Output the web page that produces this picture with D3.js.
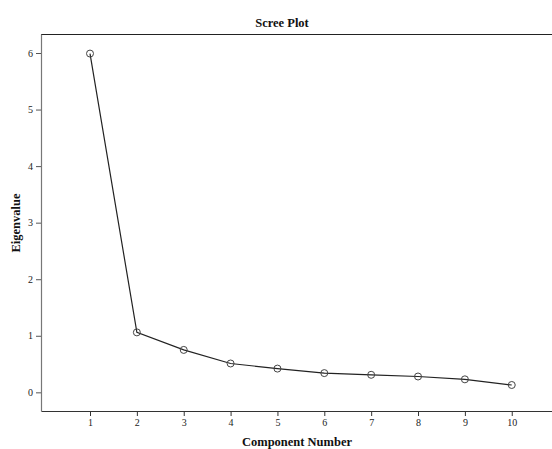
<!DOCTYPE html>
<html>
<head>
<meta charset="utf-8">
<script src="https://cdn.jsdelivr.net/npm/d3@7/dist/d3.min.js"></script>
<style>
  html, body { margin: 0; padding: 0; background: #fff; }
  svg { display: block; }
</style>
</head>
<body>
<svg id="chart" width="552" height="449"></svg>
<script>
// Scree plot: eigenvalue of each extracted component
const components = [1, 2, 3, 4, 5, 6, 7, 8, 9, 10];
const eigenvalues = [5.99, 1.06, 0.75, 0.51, 0.42, 0.34, 0.31, 0.28, 0.23, 0.13];
const yTicks = [0, 1, 2, 3, 4, 5, 6];

const svg = d3.select("#chart");
const plotLeft = 41, plotRight = 560, plotTop = 34, plotBottom = 411;
const serif = "'Liberation Serif', 'DejaVu Serif', serif";

const x = d3.scaleLinear().domain([-0.046, 11.03]).range([plotLeft, plotRight]);
const y = d3.scaleLinear().domain([-0.33, 6.336]).range([plotBottom, plotTop]);

// frame top edge
svg.append("line")
  .attr("x1", plotLeft).attr("x2", plotRight)
  .attr("y1", plotTop + 0.5).attr("y2", plotTop + 0.5)
  .attr("stroke", "#222").attr("stroke-width", 1);

// x axis
const xAxis = svg.append("g")
  .attr("transform", `translate(0,${plotBottom})`)
  .call(d3.axisBottom(x).tickValues(components).tickFormat(d3.format("d"))
    .tickSize(5).tickSizeOuter(0).tickPadding(3));
xAxis.select(".domain").attr("stroke", "#333").attr("stroke-width", 1.2);
xAxis.selectAll(".tick line").attr("stroke", "#333");
xAxis.selectAll("text").attr("font-family", serif).attr("font-size", 10).attr("fill", "#222");

// y axis
const yAxis = svg.append("g")
  .attr("transform", `translate(${plotLeft},0)`)
  .call(d3.axisLeft(y).tickValues(yTicks).tickFormat(d3.format("d"))
    .tickSize(5).tickSizeOuter(0).tickPadding(3));
yAxis.select(".domain").attr("stroke", "#777").attr("stroke-width", 1.2);
yAxis.selectAll(".tick line").attr("stroke", "#555");
yAxis.selectAll("text").attr("font-family", serif).attr("font-size", 10).attr("fill", "#222");

// eigenvalue line
const pts = components.map((c, i) => [c, eigenvalues[i]]);
svg.append("path")
  .datum(pts)
  .attr("fill", "none")
  .attr("stroke", "#222")
  .attr("stroke-width", 1.2)
  .attr("d", d3.line().x(d => x(d[0])).y(d => y(d[1])));

// open markers
svg.append("g").selectAll("circle")
  .data(pts)
  .join("circle")
  .attr("cx", d => x(d[0]))
  .attr("cy", d => y(d[1]))
  .attr("r", 3.5)
  .attr("fill", "none")
  .attr("stroke", "#444")
  .attr("stroke-width", 1);

// titles
svg.append("text")
  .attr("x", 282).attr("y", 27)
  .attr("text-anchor", "middle")
  .attr("font-family", serif).attr("font-weight", "bold").attr("font-size", 12.5)
  .attr("fill", "#111")
  .text("Scree Plot");

svg.append("text")
  .attr("x", 297).attr("y", 446)
  .attr("text-anchor", "middle")
  .attr("font-family", serif).attr("font-weight", "bold").attr("font-size", 12.5)
  .attr("fill", "#111")
  .text("Component Number");

svg.append("text")
  .attr("transform", "translate(20,223) rotate(-90)")
  .attr("text-anchor", "middle")
  .attr("font-family", serif).attr("font-weight", "bold").attr("font-size", 12.5)
  .attr("fill", "#111")
  .text("Eigenvalue");
</script>
</body>
</html>
